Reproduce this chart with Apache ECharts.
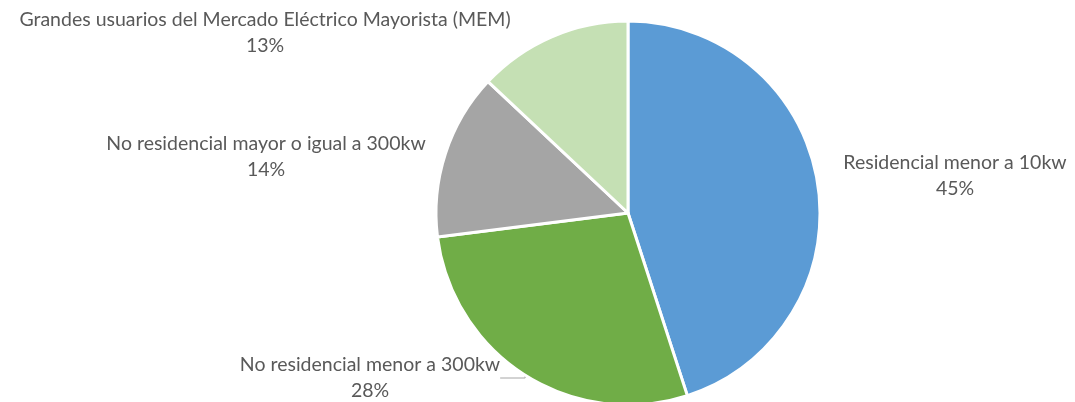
<!DOCTYPE html>
<html>
<head>
<meta charset="utf-8">
<script src="https://cdn.jsdelivr.net/npm/echarts@6/dist/echarts.min.js"></script>
<style>
  html, body { margin: 0; padding: 0; background: #fff; }
  #chart { width: 1075px; height: 402px; }
</style>
</head>
<body>
<div id="chart"></div>
<script>
const categories = [
  'Residencial menor a 10kw',
  'No residencial menor a 300kw',
  'No residencial mayor o igual a 300kw',
  'Grandes usuarios del Mercado Eléctrico Mayorista (MEM)'
]
const shares = [45, 28, 14, 13]
const colors = ['#5B9BD5', '#70AD47', '#A5A5A5', '#C5E0B4']

// label centres, in px
const labelSpots = [[955, 176], [370, 378], [266, 157], [265, 33]]

const chart = echarts.init(document.getElementById('chart'))
chart.setOption({
  animation: false,
  textStyle: { fontFamily: 'Lato' },
  series: [
    {
      type: 'pie',
      center: [628, 213],
      radius: 192,
      startAngle: 90,
      clockwise: true,
      percentPrecision: 0,
      itemStyle: { borderColor: '#fff', borderWidth: 3 },
      label: {
        show: true,
        formatter: '{b}\n{d}%',
        color: '#595959',
        fontSize: 19.5,
        lineHeight: 26,
        align: 'center',
        overflow: 'none'
      },
      labelLine: { show: false },
      labelLayout: function (params) {
        const p = labelSpots[params.dataIndex]
        return { x: p[0], y: p[1], align: 'center', verticalAlign: 'middle' }
      },
      data: categories.map((name, i) => ({
        name: name,
        value: shares[i],
        itemStyle: { color: colors[i] },
        labelLine: i === 1
          ? { show: true, lineStyle: { color: '#A6A6A6', width: 1 } }
          : { show: false }
      }))
    }
  ]
})
</script>
</body>
</html>
